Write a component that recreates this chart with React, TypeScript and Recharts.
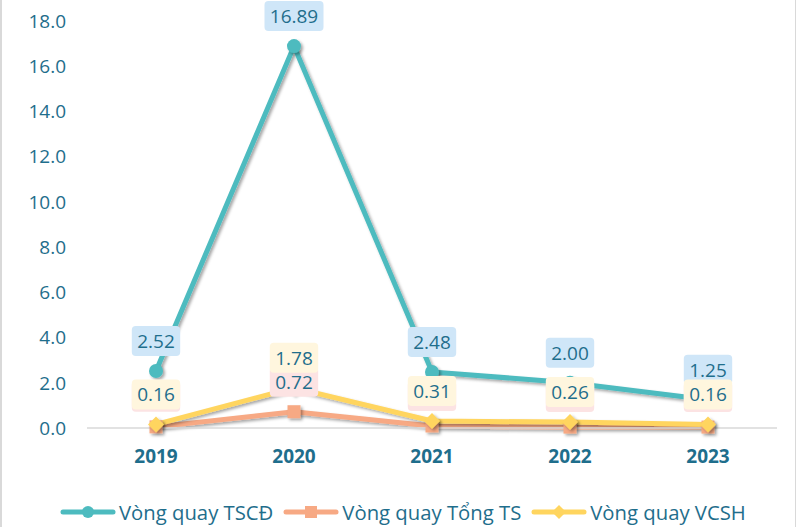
import React from "react";
import { LineChart, Line, XAxis, YAxis, Legend, LabelList } from "recharts";

const years = ["2019", "2020", "2021", "2022", "2023"];
const tscd = [2.52, 16.89, 2.48, 2.0, 1.25];
const tongTS = [0.05, 0.72, 0.09, 0.04, 0.04];
const vcsh = [0.16, 1.78, 0.31, 0.26, 0.16];
const yTicks = [0, 2, 4, 6, 8, 10, 12, 14, 16, 18];

const seriesNames = ["Vòng quay TSCĐ", "Vòng quay Tổng TS", "Vòng quay VCSH"];
const colors = ["#4DBBBF", "#F7A984", "#FFD55F"];
const boxFills = ["#CFE6F8", "#FCE3E3", "#FFF6DE"];

const data = years.map((y, i) => ({
  year: y,
  tscd: tscd[i],
  tongTS: tongTS[i],
  vcsh: vcsh[i],
}));

const FONT = "'Open Sans', 'Segoe UI', sans-serif";
const TEXT = "#1F6E8C";

const makeLabel = (fill: string) => (props: any) => {
  const { x, y, value } = props;
  const txt = Number(value).toFixed(2);
  const w = txt.length * 10.6 + 6;
  const h = 30;
  const cy = y - 30;
  return (
    <g>
      <rect x={x - w / 2} y={cy - h / 2} width={w} height={h} rx={4} fill={fill} />
      <text
        x={x}
        y={cy}
        textAnchor="middle"
        dominantBaseline="central"
        fontSize={19}
        fontFamily={FONT}
        fill={TEXT}
      >
        {txt}
      </text>
    </g>
  );
};

const Square = (props: any) => {
  const { cx, cy } = props;
  return <rect x={cx - 6.5} y={cy - 6.5} width={13} height={13} fill={colors[1]} filter="url(#shadow)" />;
};
const Diamond = (props: any) => {
  const { cx, cy } = props;
  return (
    <path
      d={`M${cx},${cy - 8}L${cx + 8},${cy}L${cx},${cy + 8}L${cx - 8},${cy}Z`}
      fill={colors[2]}
      filter="url(#shadow)"
    />
  );
};
const Circle = (props: any) => {
  const { cx, cy } = props;
  return <circle cx={cx} cy={cy} r={7} fill={colors[0]} filter="url(#shadow)" />;
};

const LegendIcon = ({ i }: { i: number }) => {
  const c = colors[i];
  return (
    <svg width={56} height={16} style={{ display: "block" }}>
      <line x1={3} y1={8} x2={53} y2={8} stroke={c} strokeWidth={5} strokeLinecap="round" />
      {i === 0 && <circle cx={28} cy={8} r={6} fill={c} />}
      {i === 1 && <rect x={22} y={2} width={12} height={12} fill={c} />}
      {i === 2 && <path d="M28,1L35,8L28,15L21,8Z" fill={c} />}
    </svg>
  );
};

const CustomLegend = () => (
  <div
    style={{
      display: "flex",
      justifyContent: "flex-start",
      alignItems: "center",
      paddingLeft: 58,
      paddingTop: 12,
      fontFamily: FONT,
      fontSize: 20.3,
      color: TEXT,
    }}
  >
    {seriesNames.map((n, i) => (
      <div key={n} style={{ display: "flex", alignItems: "center", marginRight: 10 }}>
        <LegendIcon i={i} />
        <span style={{ marginLeft: 3, whiteSpace: "nowrap" }}>{n}</span>
      </div>
    ))}
  </div>
);

export default function App() {
  return (
    <div
      style={{
        width: 796,
        height: 527,
        position: "relative",
        background: "#fff",
        borderLeft: "2px solid #D9D9D9",
        borderRight: "1px solid #D9D9D9",
        boxSizing: "border-box",
      }}
    >
      <style>{`body{margin:0}`}</style>
      <LineChart
        width={793}
        height={527}
        data={data}
        margin={{ top: 21, right: 18, left: 0, bottom: 0 }}
      >
        <defs>
          <filter id="shadow" x="-50%" y="-50%" width="200%" height="200%">
            <feDropShadow dx={2} dy={2} stdDeviation={1.5} floodColor="#000" floodOpacity={0.35} />
          </filter>
        </defs>
        <XAxis
          dataKey="year"
          padding={{ left: 69, right: 69 }}
          axisLine={{ stroke: "#D9D9D9", strokeWidth: 1.5 }}
          tickLine={false}
          tickSize={0}
          tickMargin={22}
          height={58}
          tick={{ fontSize: 19, fontWeight: 700, fill: TEXT, fontFamily: FONT }}
        />
        <YAxis
          domain={[0, 18]}
          ticks={yTicks}
          width={85}
          axisLine={false}
          tickLine={false}
          tickSize={0}
          tickMargin={21}
          tickFormatter={(v: number) => v.toFixed(1)}
          tick={{ fontSize: 19, fill: TEXT, fontFamily: FONT }}
        />
        <Legend verticalAlign="bottom" height={41} content={() => <CustomLegend />} />
        <Line
          dataKey="tscd"
          name={seriesNames[0]}
          stroke={colors[0]}
          strokeWidth={5}
          dot={<Circle />}
          filter="url(#shadow)"
          isAnimationActive={false}
        >
          <LabelList dataKey="tscd" content={makeLabel(boxFills[0])} />
        </Line>
        <Line
          dataKey="tongTS"
          name={seriesNames[1]}
          stroke={colors[1]}
          strokeWidth={5}
          dot={<Square />}
          filter="url(#shadow)"
          isAnimationActive={false}
        >
          <LabelList dataKey="tongTS" content={makeLabel(boxFills[1])} />
        </Line>
        <Line
          dataKey="vcsh"
          name={seriesNames[2]}
          stroke={colors[2]}
          strokeWidth={5}
          dot={<Diamond />}
          filter="url(#shadow)"
          isAnimationActive={false}
        >
          <LabelList dataKey="vcsh" content={makeLabel(boxFills[2])} />
        </Line>
      </LineChart>
    </div>
  );
}
